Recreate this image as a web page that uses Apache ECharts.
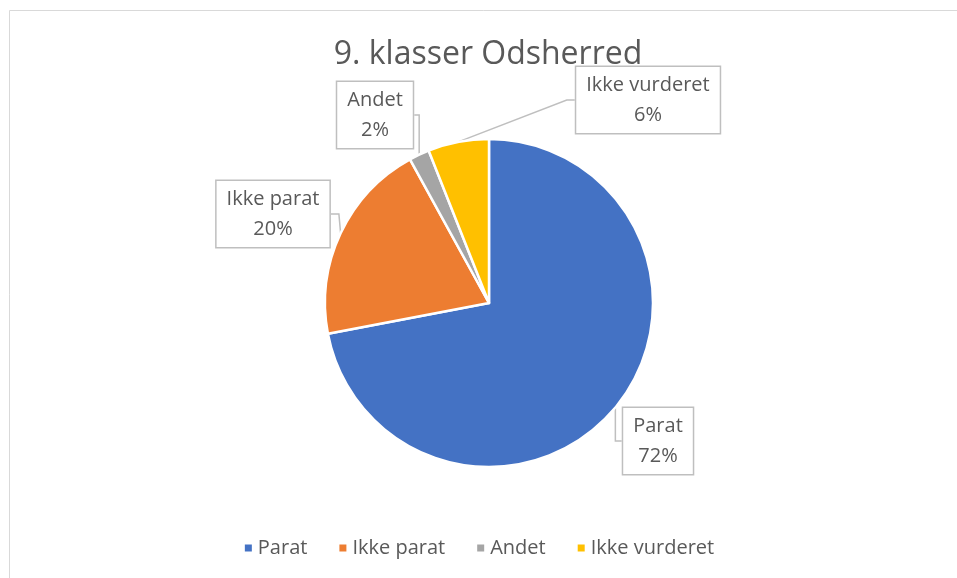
<!DOCTYPE html>
<html>
<head>
<meta charset="utf-8">
<script src="https://cdn.jsdelivr.net/npm/echarts@6/dist/echarts.min.js"></script>
<style>
	html, body { margin: 0; padding: 0; background: #fff; }
	#chart { width: 957px; height: 578px; }
</style>
</head>
<body>
<div id="chart"></div>
<script>
var categories = ['Parat', 'Ikke parat', 'Andet', 'Ikke vurderet'];
var values = [72, 20, 2, 6];
var colors = ['#4472C4', '#ED7D31', '#A5A5A5', '#FFC000'];

// where each callout box sits (box centre)
var labelSpots = [[658, 441], [273, 214], [375, 115], [648, 100]];

(function() {
	var chart = echarts.init(document.getElementById('chart'));
	var data = categories.map(function(name, i) {
		return { name: name, value: values[i], itemStyle: { color: colors[i] } };
	});
	chart.setOption({
		backgroundColor: '#fff',
		graphic: [{
			type: 'rect',
			shape: { x: 9.5, y: 10.5, width: 1200, height: 1200 },
			style: { fill: 'none', stroke: '#d9d9d9', lineWidth: 1 },
			silent: true
		}],
		title: {
			text: '9. klasser Odsherred',
			left: 483,
			top: 34,
			textAlign: 'center',
			textStyle: {
				fontFamily: 'Open Sans',
				fontWeight: 'normal',
				fontSize: 32,
				color: '#595959'
			}
		},
		legend: {
			data: categories,
			bottom: 15,
			left: 'center',
			icon: 'rect',
			itemWidth: 9,
			itemHeight: 9,
			itemGap: 30,
			textStyle: { fontFamily: 'Open Sans', fontSize: 20, color: '#595959' }
		},
		series: [{
			type: 'pie',
			center: [489, 303],
			radius: 164,
			startAngle: 90,
			clockwise: true,
			percentPrecision: 0,
			itemStyle: { borderColor: '#fff', borderWidth: 2.5 },
			label: {
				show: true,
				formatter: '{b}\n{d}%',
				fontFamily: 'Open Sans',
				fontSize: 20,
				lineHeight: 30,
				color: '#595959',
				align: 'center',
				backgroundColor: '#fff',
				borderColor: '#bfbfbf',
				borderWidth: 1.5,
				padding: [3, 10]
			},
			labelLine: {
				show: true,
				length: 8,
				length2: 8,
				lineStyle: { color: '#bfbfbf', width: 1.5 }
			},
			labelLayout: function(params) {
				var p = labelSpots[params.dataIndex];
				return { x: p[0], y: p[1], align: 'center', verticalAlign: 'middle' };
			},
			emphasis: { disabled: true },
			animation: false,
			data: data
		}]
	});
})();
</script>
</body>
</html>
